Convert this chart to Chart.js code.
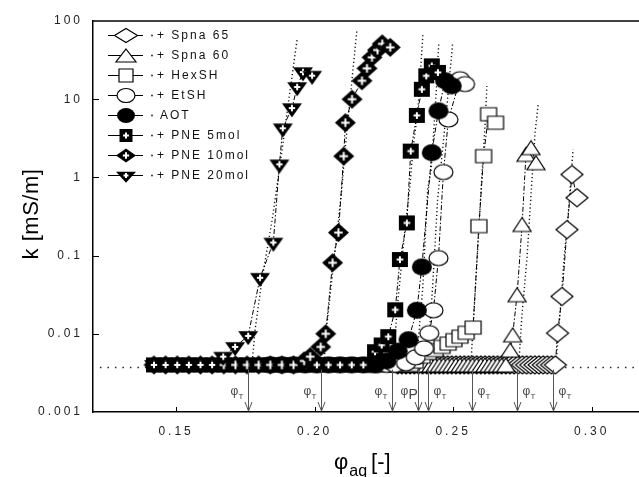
<!DOCTYPE html>
<html><head><meta charset="utf-8">
<script src="https://cdn.jsdelivr.net/npm/chart.js"></script>
<style>html,body{margin:0;padding:0;background:#fff;overflow:hidden}</style>
</head><body>
<canvas id="c" width="639" height="477"></canvas>
<script>
const FONT = '"Liberation Sans", Arial, Helvetica, sans-serif';

// ---- axes ----
const xTicks = [0.15, 0.20, 0.25, 0.30];
const xTickLabels = ['0.15', '0.20', '0.25', '0.30'];
const yTicks = [0.001, 0.01, 0.1, 1, 10, 100];
const yTickLabels = ['0.001', '0.01', '0.1', '1', '10', '100'];

// ---- legend names ----
const seriesNames = ['+ Spna 65', '+ Spna 60', '+ HexSH', '+ EtSH', 'AOT', '+ PNE 5mol', '+ PNE 10mol', '+ PNE 20mol'];

// ---- measured data (phi_aq, k in mS/m) ----
const spna65X = [0.2300,0.2315,0.2330,0.2345,0.2360,0.2375,0.2390,0.2405,0.2420,0.2435,0.2450,0.2465,0.2480,0.2495,0.2510,0.2525,0.2540,0.2555,0.2570,0.2585,0.2600,0.2615,0.2630,0.2645,0.2660,0.2675,0.2690,0.2705,0.2720,0.2735,0.2750,0.2765,0.2780,0.2795,0.2810,0.2825,0.2840,0.2855,0.2869,0.2877,0.2893,0.2911,0.2929,0.2947];
const spna65K = [0.004,0.004,0.004,0.004,0.004,0.004,0.004,0.004,0.004,0.004,0.004,0.004,0.004,0.004,0.004,0.004,0.004,0.004,0.004,0.004,0.004,0.004,0.004,0.004,0.004,0.004,0.004,0.004,0.004,0.004,0.004,0.004,0.004,0.004,0.004,0.004,0.004,0.004,0.004,0.0102,0.030,0.215,1.09,0.55];

const spna60X = [0.2300,0.2315,0.2330,0.2345,0.2360,0.2375,0.2390,0.2405,0.2420,0.2435,0.2450,0.2465,0.2480,0.2495,0.2510,0.2525,0.2540,0.2555,0.2570,0.2585,0.2600,0.2615,0.2630,0.2645,0.2660,0.2675,0.2690,0.2706,0.2715,0.2731,0.2749,0.2763,0.2781,0.2799];
const spna60K = [0.004,0.004,0.004,0.004,0.004,0.004,0.004,0.004,0.004,0.004,0.004,0.004,0.004,0.004,0.004,0.004,0.004,0.004,0.004,0.004,0.004,0.004,0.004,0.004,0.004,0.004,0.004,0.0062,0.0097,0.0316,0.25,1.97,2.40,1.54];

const hexX = [0.2250,0.2275,0.2300,0.2325,0.2345,0.2363,0.2388,0.2410,0.2435,0.2460,0.2482,0.2503,0.2525,0.2547,0.2572,0.2593,0.2610,0.2628,0.2653];
const hexK = [0.004,0.004,0.004,0.004,0.004,0.0044,0.0051,0.0057,0.0062,0.0068,0.0075,0.0083,0.0092,0.0103,0.0120,0.238,1.87,6.43,5.0];

const etshX = [0.2200,0.2230,0.2260,0.2290,0.2330,0.2365,0.2395,0.2414,0.2429,0.2447,0.2465,0.2483,0.2525,0.2543];
const etshK = [0.004,0.004,0.004,0.004,0.0042,0.0050,0.0065,0.0102,0.020,0.093,1.17,5.5,18,15.6];

const aotX = [0.1840,0.1882,0.1924,0.1966,0.2008,0.2050,0.2092,0.2134,0.2176,0.2218,0.2260,0.2300,0.2339,0.2369,0.2387,0.2423,0.2447,0.2471,0.2495];
const aotK = [0.004,0.004,0.004,0.004,0.004,0.004,0.004,0.004,0.004,0.004,0.0045,0.006,0.0084,0.020,0.0716,2.07,7.08,17.2,14.8];

const pne5X = [0.1420,0.1462,0.1504,0.1546,0.1588,0.1630,0.1672,0.1714,0.1756,0.1798,0.1840,0.1882,0.1924,0.1966,0.2008,0.2050,0.2092,0.2134,0.2176,0.2218,0.2242,0.2266,0.2291,0.2308,0.2333,0.2347,0.2369,0.2387,0.2403,0.2423,0.2445];
const pne5K = [0.004,0.004,0.004,0.004,0.004,0.004,0.004,0.004,0.004,0.004,0.004,0.004,0.004,0.004,0.004,0.004,0.004,0.004,0.004,0.0059,0.0072,0.0092,0.0203,0.089,0.262,2.17,6.2,13.4,19.9,26.7,22];

const pne10X = [0.1420,0.1462,0.1504,0.1546,0.1588,0.1630,0.1672,0.1714,0.1756,0.1798,0.1840,0.1882,0.1924,0.1962,0.1984,0.2022,0.2040,0.2065,0.2086,0.2105,0.2111,0.2135,0.2171,0.2189,0.2207,0.2227,0.2244,0.2273];
const pne10K = [0.004,0.004,0.004,0.004,0.004,0.004,0.004,0.004,0.004,0.004,0.004,0.004,0.004,0.0045,0.0051,0.0068,0.0100,0.081,0.197,1.87,5.0,10,17.2,24.8,34.3,42.5,51,46];

const pne20X = [0.1420,0.1462,0.1504,0.1546,0.1588,0.1630,0.1670,0.1713,0.1760,0.1803,0.1851,0.1873,0.1885,0.1918,0.1937,0.1958,0.1991];
const pne20K = [0.004,0.004,0.004,0.004,0.004,0.004,0.0051,0.0068,0.0094,0.052,0.147,1.47,4.25,7.7,14.3,22.2,20.0];

// ---- dotted model curves ----
const fitSpna65X = [0.2872,0.2886,0.2901,0.2915,0.2933];
const fitSpna65K = [0.0044,0.0186,0.097,0.316,2.29];
const fitSpna60X = [0.2738,0.2748,0.2767,0.2784,0.2796,0.2807];
const fitSpna60K = [0.0046,0.0165,0.097,0.86,3.78,8.6];
const fitHexX = [0.2565,0.2572,0.2585,0.2603,0.2615,0.2622];
const fitHexK = [0.0046,0.0123,0.072,0.94,4.5,14.7];
const fitEtshX = [0.2408,0.2426,0.2444,0.2462,0.2480,0.2498];
const fitEtshK = [0.0046,0.040,0.52,2.29,10,50.7];
const fitAotX = [0.2368,0.2390,0.2408,0.2421,0.2439,0.2448];
const fitAotK = [0.0046,0.0367,0.70,1.27,12.2,50.7];
const fitPne5X = [0.2283,0.2301,0.2326,0.2344,0.2355,0.2373,0.2391];
const fitPne5K = [0.0044,0.0273,0.215,0.77,2.29,7.4,68];
const fitPne10X = [0.2034,0.2045,0.2066,0.2098,0.2110,0.2128,0.2153];
const fitPne10K = [0.0044,0.0138,0.066,0.70,2.29,10,78.9];
const fitPne20X = [0.1774,0.1785,0.1810,0.1847,0.1883,0.1912,0.1937];
const fitPne20K = [0.0040,0.0112,0.0492,0.29,2.29,13.4,58.8];

// ---- baseline reference line and thresholds ----
const refLineX = [0.1225, 0.3171];
const refLineK = [0.0037, 0.0037];
const thresholdX = [0.1760, 0.2023, 0.2280, 0.2374, 0.2410, 0.2568, 0.2729, 0.2859];
const thresholdSym = ['T','T','T','P','T','T','T','T'];

// ---- marker drawing ----
function drawMarker(g, type, cx, cy, w, h, filled, plus) {
  g.save();
  g.lineWidth = 1.2; g.strokeStyle = '#000'; g.fillStyle = filled ? '#000' : '#fff';
  const hw = w/2, hh = h/2;
  g.beginPath();
  if (type === 'diamond') { g.moveTo(cx, cy-hh); g.lineTo(cx+hw, cy); g.lineTo(cx, cy+hh); g.lineTo(cx-hw, cy); g.closePath(); }
  else if (type === 'triUp') { g.moveTo(cx, cy-hh); g.lineTo(cx+hw, cy+hh); g.lineTo(cx-hw, cy+hh); g.closePath(); }
  else if (type === 'triDown') { g.moveTo(cx-hw, cy-hh); g.lineTo(cx+hw, cy-hh); g.lineTo(cx, cy+hh); g.closePath(); }
  else if (type === 'square') { g.rect(cx-hw, cy-hh, w, h); }
  else if (type === 'circle') { g.ellipse(cx, cy, hw, hh, 0, 0, Math.PI*2); }
  g.fill();
  if (!filled) g.stroke();
  if (plus) {
    const py = type === 'triDown' ? cy - hh/3 : cy;
    const a = Math.min(hw, hh) * 0.45;
    g.strokeStyle = '#fff'; g.lineWidth = 2;
    g.beginPath(); g.moveTo(cx-a, py); g.lineTo(cx+a, py); g.moveTo(cx, py-a); g.lineTo(cx, py+a); g.stroke();
  }
  g.restore();
}
function markerImage(type, w, h, filled, plus) {
  const cw = Math.ceil(w) + 4, ch = Math.ceil(h) + 6;
  const c = document.createElement('canvas'); c.width = cw; c.height = ch;
  const g = c.getContext('2d');
  let cy = ch/2;
  if (type === 'triDown') cy = ch/2 + h/6;
  drawMarker(g, type, cw/2, cy, w, h, filled, plus);
  return c;
}

const markerSpec = [
  ['diamond', 22, 18, false, false],
  ['triUp', 18, 14, false, false],
  ['square', 16, 13, false, false],
  ['circle', 19, 15, false, false],
  ['circle', 20, 17, true, false],
  ['square', 16, 15, true, true],
  ['diamond', 21, 19, true, true],
  ['triDown', 20, 14, true, true]
];
const legendSpec = [
  ['diamond', 23, 14], ['triUp', 20, 13], ['square', 14, 13], ['circle', 18, 14],
  ['circle', 18, 15], ['square', 13, 13], ['diamond', 20, 14], ['triDown', 20, 11]
];
const images = markerSpec.map(s => markerImage(s[0], s[1], s[2], s[3], s[4]));

const seriesX = [spna65X, spna60X, hexX, etshX, aotX, pne5X, pne10X, pne20X];
const seriesK = [spna65K, spna60K, hexK, etshK, aotK, pne5K, pne10K, pne20K];
const fitX = [fitSpna65X, fitSpna60X, fitHexX, fitEtshX, fitAotX, fitPne5X, fitPne10X, fitPne20X];
const fitK = [fitSpna65K, fitSpna60K, fitHexK, fitEtshK, fitAotK, fitPne5K, fitPne10K, fitPne20K];

const pts = (xs, ks) => xs.map((x, i) => ({x: x, y: ks[i]}));
const datasets = [];
datasets.push({label: 'ref', data: pts(refLineX, refLineK), showLine: true, pointRadius: 0,
  borderColor: '#222', borderWidth: 1.6, borderDash: [1.5, 6], order: 100});
fitX.forEach((xs, i) => datasets.push({label: 'fit' + i, data: pts(xs, fitK[i]), showLine: true, pointRadius: 0,
  borderColor: '#111', borderWidth: 1.4, borderDash: [1.2, 2.6], order: 50}));
seriesX.forEach((xs, i) => datasets.push({label: seriesNames[i], data: pts(xs, seriesK[i]), showLine: true,
  borderColor: '#000', borderWidth: 1, borderDash: [5, 2, 1.5, 2], pointStyle: images[i], pointRadius: 8,
  order: 20 - i}));

const decor = {
  id: 'decor',
  beforeDraw(chart) {
    const c = chart.ctx;
    c.save(); c.fillStyle = '#fff'; c.fillRect(0, 0, chart.width, chart.height); c.restore();
    c.letterSpacing = '3px';
  },
  afterDatasetsDraw(chart) {
    const c = chart.ctx, xs = chart.scales.x, ys = chart.scales.y;
    c.save();
    c.letterSpacing = '0px';
    thresholdX.forEach((v, i) => {
      const px = Math.round(xs.getPixelForValue(v)) + 0.5;
      const top = ys.getPixelForValue(0.0037) + 2;
      const bot = ys.bottom - 1;
      c.strokeStyle = '#555'; c.lineWidth = 1;
      c.beginPath(); c.moveTo(px, top); c.lineTo(px, bot);
      c.moveTo(px - 3.5, bot - 9); c.lineTo(px, bot); c.lineTo(px + 3.5, bot - 9); c.stroke();
      const lx = i < 4 ? px - 12 : px + 11;
      c.fillStyle = '#444'; c.textAlign = 'center'; c.textBaseline = 'alphabetic';
      c.font = '12px ' + FONT;
      c.fillText('\u03c6', lx - 2, 395);
      if (thresholdSym[i] === 'P') { c.font = '14px ' + FONT; c.textAlign = 'left'; c.fillText('P', lx + 2, 399); }
      else { c.font = '8px ' + FONT; c.textAlign = 'left'; c.fillText('T', lx + 2, 399); }
    });
    c.restore();
  },
  afterDraw(chart) {
    const c = chart.ctx, a = chart.chartArea, xs = chart.scales.x, ys = chart.scales.y;
    c.save();
    c.letterSpacing = '0px';
    // top frame line
    c.strokeStyle = '#000'; c.lineWidth = 1.5;
    c.beginPath(); c.moveTo(a.left, a.top); c.lineTo(chart.width, a.top); c.stroke();
    // inward ticks
    c.lineWidth = 1;
    c.beginPath();
    [0.01, 0.1, 1, 10].forEach(v => { const py = Math.round(ys.getPixelForValue(v)) + 0.5; c.moveTo(a.left, py); c.lineTo(a.left + 6, py); });
    xTicks.forEach(v => { const px = Math.round(xs.getPixelForValue(v)) + 0.5; c.moveTo(px, a.bottom); c.lineTo(px, a.bottom - 5); });
    c.stroke();
    // legend
    c.letterSpacing = '2px';
    seriesNames.forEach((name, i) => {
      const y = 35 + 20 * i;
      c.strokeStyle = '#000'; c.lineWidth = 1.2;
      c.beginPath(); c.moveTo(108, y + 0.5); c.lineTo(143, y + 0.5); c.stroke();
      const s = legendSpec[i], m = markerSpec[i];
      let cy = y + 0.5;
      if (s[0] === 'triDown') cy += s[2] / 6;
      drawMarker(c, s[0], 126, cy, s[1], s[2], m[3], m[4]);
      c.fillStyle = '#222'; c.beginPath(); c.arc(152, y + 0.5, 0.9, 0, Math.PI * 2); c.fill();
      c.fillStyle = '#111'; c.font = '12px ' + FONT; c.textAlign = 'left'; c.textBaseline = 'middle';
      c.fillText(name, name === 'AOT' ? 160 : 157, y + 1);
    });
    // axis titles
    c.letterSpacing = '0.5px';
    c.fillStyle = '#000'; c.textBaseline = 'middle'; c.textAlign = 'center';
    c.save(); c.translate(32, 214); c.rotate(-Math.PI / 2);
    c.font = '22px ' + FONT; c.fillText('k [mS/m]', 0, 0); c.restore();
    c.textAlign = 'left'; c.textBaseline = 'alphabetic';
    c.letterSpacing = '0px';
    c.font = '22px ' + FONT; c.fillText('\u03c6', 334, 469);
    let x = 334 + c.measureText('\u03c6').width + 1;
    c.font = '16px ' + FONT; c.fillText('aq', x, 476);
    x += c.measureText('aq').width + 4;
    c.font = '22px ' + FONT; c.fillText('[-]', x, 469);
    c.restore();
  }
};

new Chart(document.getElementById('c'), {
  type: 'scatter',
  data: {datasets: datasets},
  options: {
    responsive: false, animation: false, devicePixelRatio: 1,
    layout: {autoPadding: false, padding: {top: 21, left: 0, right: 0, bottom: 0}},
    plugins: {legend: {display: false}, tooltip: {enabled: false}},
    elements: {line: {tension: 0}},
    scales: {
      x: {
        type: 'linear', min: 0.12, max: 0.3171,
        afterBuildTicks: s => { s.ticks = xTicks.map(v => ({value: v})); },
        afterFit: s => { s.height = 65; s.paddingLeft = 0; s.paddingRight = 0; },
        ticks: {callback: v => xTickLabels[xTicks.indexOf(v)], font: {size: 12, family: FONT}, color: '#222',
          padding: 12, maxRotation: 0, autoSkip: false},
        grid: {display: false, drawTicks: false},
        border: {display: true, color: '#000', width: 1.5}
      },
      y: {
        type: 'logarithmic', min: 0.001, max: 100,
        afterBuildTicks: s => { s.ticks = yTicks.map(v => ({value: v})); },
        afterFit: s => { s.width = 93; s.paddingTop = 0; s.paddingBottom = 0; },
        ticks: {callback: v => { const i = yTicks.findIndex(t => Math.abs(t - v) / t < 1e-6); return i >= 0 ? yTickLabels[i] : ''; },
          font: {size: 12, family: FONT}, color: '#222', padding: 10, autoSkip: false},
        grid: {display: false, drawTicks: false},
        border: {display: true, color: '#000', width: 1.5}
      }
    }
  },
  plugins: [decor]
});
</script>
</body></html>
